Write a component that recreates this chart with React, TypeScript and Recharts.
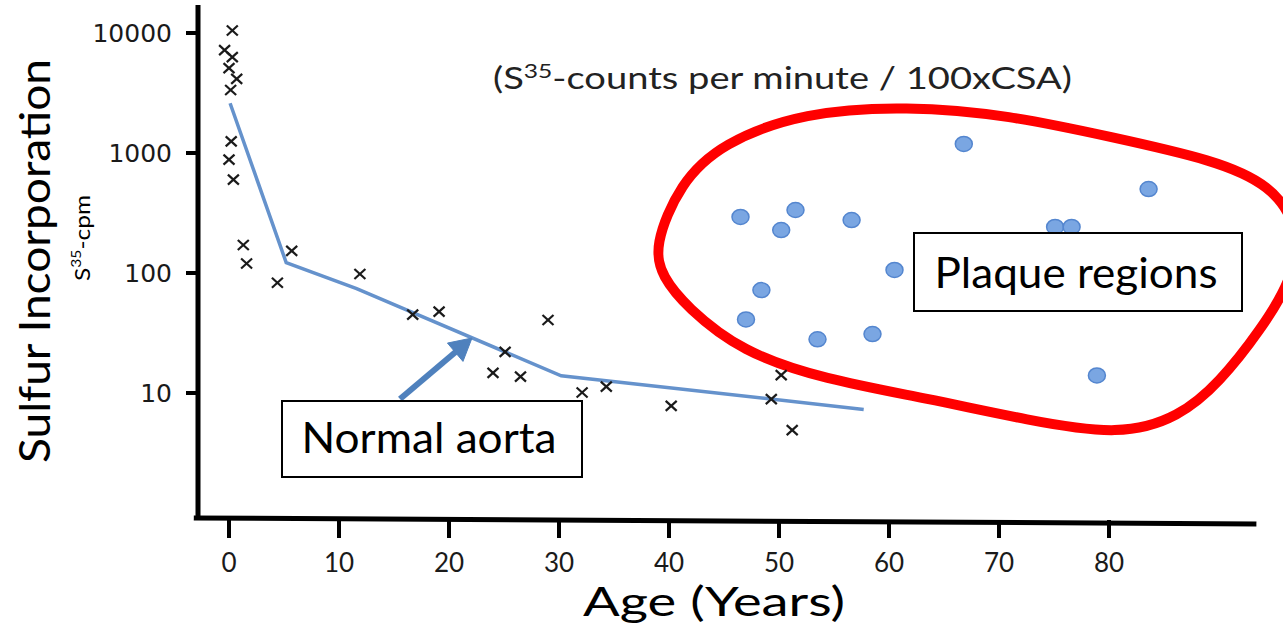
import {
  ComposedChart, Line, Scatter, XAxis, YAxis, ReferenceLine,
} from "recharts";

// normal aorta samples (crosses)
const normalAge = [0.3, -0.4, 0.3, 0.0, 0.7, 0.15, 0.2, 0.0, 0.4, 1.3, 1.6, 5.7, 4.4, 11.9, 16.7, 19.1, 29.0, 25.1, 24.0, 26.5, 32.1, 34.3, 40.2, 49.3, 50.2, 51.2];
const normalVal = [10500, 7200, 6300, 5100, 4150, 3350, 1250, 880, 600, 171, 120, 153, 83, 98, 45, 47.6, 40.6, 22, 14.7, 13.7, 10.1, 11.3, 7.8, 8.9, 14.1, 4.9];

// plaque samples (blue dots)
const plaqueAge = [46.5, 50.2, 51.5, 56.6, 48.4, 47.0, 53.5, 58.5, 60.5, 66.8, 75.1, 76.6, 83.6, 78.9];
const plaqueVal = [293, 228, 335, 276, 72, 41, 28, 31, 106, 1190, 242, 242, 501, 14];

// fitted trend for normal aorta
const trendAge = [0.1, 5.2, 11.6, 30.2, 57.7];
const trendVal = [2600, 122, 74, 13.9, 7.3];

// red outline round the plaque group (age, value)
const loopAge = [38.6, 41.0, 44.8, 52.3, 61.6, 70.9, 80.2, 89.6, 94.7, 97.2, 96.9, 93.8, 90.0, 86.4, 81.0, 72.7, 63.5, 54.1, 46.6, 41.6, 39.4];
const loopVal = [165, 562, 1212, 2198, 2465, 2073, 1359, 874, 541, 251, 96, 33.5, 12.1, 6.3, 4.4, 5.9, 9.0, 13.0, 22.0, 52, 92.6];

const xTicks = [0, 10, 20, 30, 40, 50, 60, 70, 80];
const yTicks = [10, 100, 1000, 10000];

const crosses = normalAge.map((age, i) => ({ age, v: normalVal[i] }));
const plaques = plaqueAge.map((age, i) => ({ age, v: plaqueVal[i] }));
const trend = trendAge.map((age, i) => ({ age, v: trendVal[i] }));
const loop = loopAge.map((age, i) => ({ age, v: loopVal[i] }));

const CALIBRI = "Lato, 'Open Sans', sans-serif";

function Cross(props: any) {
  const { cx, cy } = props;
  const w = 5.5, h = 5;
  return (
    <g stroke="#1a1a1a" strokeWidth={2.2}>
      <line x1={cx - w} y1={cy - h} x2={cx + w} y2={cy + h} />
      <line x1={cx - w} y1={cy + h} x2={cx + w} y2={cy - h} />
    </g>
  );
}

function Dot(props: any) {
  const { cx, cy } = props;
  return <ellipse cx={cx} cy={cy} rx={8.5} ry={7.5} fill="#7aa6e2" stroke="#5486cf" strokeWidth={1.5} />;
}

function Arrow({ x1, y1, x2, y2 }: { x1: number; y1: number; x2: number; y2: number }) {
  const dx = x2 - x1, dy = y2 - y1;
  const len = Math.hypot(dx, dy);
  const ux = dx / len, uy = dy / len;
  const hl = 22, hw = 12;
  const bx = x2 - ux * hl, by = y2 - uy * hl;
  const pts = `${x2},${y2} ${bx + uy * hw},${by - ux * hw} ${bx - uy * hw},${by + ux * hw}`;
  return (
    <g fill="#4f81bd" stroke="#4f81bd">
      <line x1={x1} y1={y1} x2={bx + ux * 2} y2={by + uy * 2} strokeWidth={6} />
      <polygon points={pts} strokeWidth={1} />
    </g>
  );
}

export default function App() {
  return (
    <div style={{ position: "absolute", left: 0, top: 0, width: 1283, height: 626, overflow: "hidden", background: "#fff" }}>
      <ComposedChart width={1283} height={626} margin={{ top: 5, right: 0, bottom: 46, left: 0 }}>
        <XAxis
          dataKey="age" type="number" domain={[-2.818, 95.818]} allowDataOverflow ticks={xTicks}
          axisLine={false} tickLine={{ stroke: "#000", strokeWidth: 4 }} tickSize={18} tickMargin={16} height={60}
          tick={{ fontSize: 26, fontFamily: CALIBRI, fill: "#1a1a1a" }}
        />
        <YAxis
          dataKey="v" type="number" scale="log" domain={[0.874, 17118]} allowDataOverflow ticks={yTicks}
          axisLine={{ stroke: "#000", strokeWidth: 5 }} tickLine={{ stroke: "#000", strokeWidth: 4 }}
          tickSize={12} tickMargin={14} width={198}
          tick={{ fontSize: 25, fontFamily: "'DejaVu Sans', sans-serif", fill: "#1a1a1a" }}
        />
        <ReferenceLine
          segment={[{ x: -3.2, y: 0.9085 }, { x: 93.4, y: 0.81 }]}
          stroke="#000" strokeWidth={5} ifOverflow="visible"
        />
        <Line data={trend} dataKey="v" type="linear" stroke="#6592cc" strokeWidth={3.5} dot={false} activeDot={false} isAnimationActive={false} />
        <Scatter data={crosses} dataKey="v" shape={Cross} isAnimationActive={false} />
        <Scatter data={plaques} dataKey="v" shape={Dot} isAnimationActive={false} />
        <Line data={loop} dataKey="v" type="basisClosed" stroke="#ff0000" strokeWidth={10} dot={false} activeDot={false} isAnimationActive={false} />
      </ComposedChart>

      <svg width={1283} height={626} style={{ position: "absolute", left: 0, top: 0, pointerEvents: "none" }}>
        <g fontFamily={CALIBRI} fill="#000">
          <text transform="translate(50,261) rotate(-90)" textAnchor="middle" fontSize={42} textLength={404} lengthAdjust="spacingAndGlyphs">
            Sulfur Incorporation
          </text>
          <text transform="translate(90,238) rotate(-90)" textAnchor="middle" fontSize={22} textLength={86} lengthAdjust="spacingAndGlyphs">
            S<tspan fontSize={14} dy={-9}>35</tspan><tspan dy={9}>-cpm</tspan>
          </text>
          <text x={493} y={89} fontSize={31} fill="#222" textLength={579} lengthAdjust="spacingAndGlyphs">
            (S<tspan fontSize={20} dy={-11}>35</tspan><tspan dy={11}>-counts per minute / 100xCSA)</tspan>
          </text>
          <text x={714} y={616} textAnchor="middle" fontSize={40} textLength={262} lengthAdjust="spacingAndGlyphs">
            Age (Years)
          </text>
        </g>

        <Arrow x1={400} y1={399} x2={472} y2={338} />

        <rect x={282} y={401} width={300} height={76} fill="#fff" stroke="#000" strokeWidth={2} />
        <text x={429} y={453} textAnchor="middle" fontFamily={CALIBRI} fontSize={42} textLength={255} lengthAdjust="spacingAndGlyphs">
          Normal aorta
        </text>

        <rect x={914} y={233} width={328} height={78} fill="#fff" stroke="#000" strokeWidth={2} />
        <text x={1076} y={288} textAnchor="middle" fontFamily={CALIBRI} fontSize={42} textLength={283} lengthAdjust="spacingAndGlyphs">
          Plaque regions
        </text>
      </svg>
    </div>
  );
}
